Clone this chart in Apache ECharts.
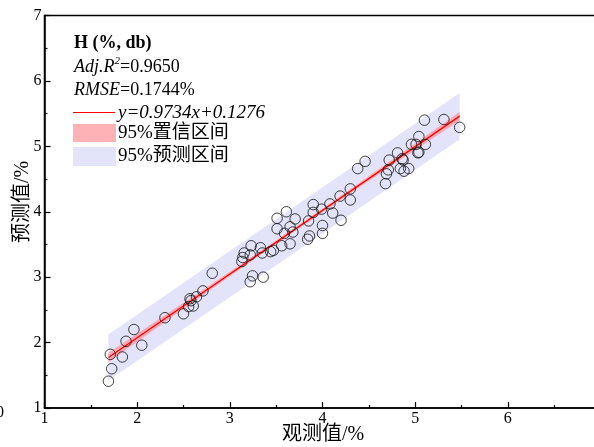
<!DOCTYPE html>
<html><head><meta charset="utf-8">
<script src="https://cdn.jsdelivr.net/npm/echarts@6/dist/echarts.min.js"></script>
<style>html,body{margin:0;padding:0;background:#fff;overflow:hidden}#c{width:594px;height:447px}</style>
</head><body><div id="c"></div>
<script>
const observed = [1.69,1.725,1.71,1.84,1.88,1.965,2.05,2.30,2.50,2.555,2.57,2.58,2.605,2.64,2.71,2.81,
  3.13,3.14,3.155,3.22,3.23,3.22,3.245,3.36,3.33,3.35,3.44,3.47,3.51,3.51,3.56,3.61,3.59,3.65,3.65,3.705,3.68,
  3.84,3.86,3.85,3.90,3.90,3.99,4.00,4.00,4.08,4.11,4.19,4.20,4.30,4.30,4.38,4.46,
  4.68,4.69,4.71,4.72,4.81,4.86,4.87,4.84,4.88,4.93,4.96,5.01,5.11,5.04,5.04,5.03,5.10,5.31,5.48];
const predicted = [1.41,1.60,1.82,1.78,2.02,2.20,1.96,2.38,2.44,2.55,2.67,2.64,2.56,2.70,2.79,3.06,
  3.24,3.30,3.37,3.34,3.48,2.93,3.02,3.00,3.45,3.37,3.39,3.41,3.90,3.74,3.48,4.00,3.67,3.77,3.51,3.89,3.69,
  3.58,3.63,3.86,4.11,3.99,4.04,3.79,3.67,4.12,3.98,4.24,3.87,4.35,4.18,4.66,4.77,
  4.43,4.58,4.64,4.79,4.90,4.81,4.79,4.66,4.62,4.66,5.03,5.03,5.03,5.15,4.91,4.90,5.40,5.41,5.29];
// Fitted line y = 0.9734x + 0.1276 (end points)
const fitX = [1.69, 5.48];
const fitY = [1.773, 5.462];
// 95% confidence band
const ciX    = [1.69, 2.2, 2.7, 3.2, 3.7, 4.2, 4.7, 5.2, 5.48];
const ciLow  = [1.700, 2.212, 2.715, 3.212, 3.703, 4.186, 4.660, 5.133, 5.393];
const ciHigh = [1.845, 2.326, 2.797, 3.273, 3.755, 4.246, 4.745, 5.246, 5.530];
// 95% prediction band
const piX    = [1.69, 5.48];
const piLow  = [1.420, 5.110];
const piHigh = [2.125, 5.815];
// Axis ticks
const xTicks = [1, 2, 3, 4, 5, 6, 7];
const yTicks = [1, 2, 3, 4, 5, 6, 7];

const SERIF = "'Liberation Serif','Times New Roman','Noto Sans CJK SC',serif";
const PINK = 'rgba(255,160,168,0.85)';
const LAV = 'rgb(227,227,250)';

function band(xs, lo, hi, color, z) {
  return {
    type: 'custom', silent: true, z: z, data: [[xs[0], lo[0]]],
    renderItem: function (params, api) {
      const pts = [];
      for (let i = 0; i < xs.length; i++) pts.push(api.coord([xs[i], hi[i]]));
      for (let i = xs.length - 1; i >= 0; i--) pts.push(api.coord([xs[i], lo[i]]));
      return { type: 'polygon', shape: { points: pts }, style: { fill: color } };
    }
  };
}

const chart = echarts.init(document.getElementById('c'), null, { renderer: 'canvas' });
const axisCommon = {
  type: 'value', interval: 1,
  axisLine: { show: true, onZero: false, lineStyle: { color: '#000', width: 1.5 } },
  axisTick: { show: true, inside: true, length: 6, lineStyle: { color: '#000', width: 1.2 } },
  minorTick: { show: true, splitNumber: 2, length: 3, lineStyle: { color: '#000', width: 1.2 } },
  splitLine: { show: false },
  axisLabel: { color: '#000', fontSize: 16, fontFamily: SERIF, margin: 3 }
};
chart.setOption({
  animation: false,
  backgroundColor: '#fff',
  grid: { left: 44.5, top: 15.5, width: 556, height: 392.5, containLabel: false, outerBoundsMode: 'none',
          show: true, borderColor: '#000', borderWidth: 1.5, backgroundColor: 'transparent' },
  xAxis: Object.assign({}, axisCommon, { min: xTicks[0], max: xTicks[xTicks.length - 1] }),
  yAxis: Object.assign({}, axisCommon, { min: yTicks[0], max: yTicks[yTicks.length - 1] }),
  series: [
    band(piX, piLow, piHigh, LAV, 1),
    band(ciX, ciLow, ciHigh, PINK, 2),
    { type: 'line', z: 3, silent: true, showSymbol: false, symbol: 'none',
      data: fitX.map((x, i) => [x, fitY[i]]), lineStyle: { color: '#ff0000', width: 1.3 } },
    { type: 'scatter', z: 4, symbol: 'circle', symbolSize: 10.5,
      data: observed.map((x, i) => [x, predicted[i]]),
      itemStyle: { color: 'rgba(0,0,0,0)', borderColor: '#111', borderWidth: 1 } }
  ],
  graphic: [
    { type: 'text', x: 323, y: 435,
      style: { text: '观测值/%', font: '20px ' + SERIF, fill: '#000', align: 'center', verticalAlign: 'middle' } },
    { type: 'text', x: 23, y: 202, rotation: Math.PI / 2,
      style: { text: '预测值/%', font: '20px ' + SERIF, fill: '#000', align: 'center', verticalAlign: 'middle' } },
    { type: 'text', left: -4, top: 405, style: { text: '0', font: '16px ' + SERIF, fill: '#000' } },
    { type: 'text', x: 74, y: 43, style: { text: 'H (%, db)', font: 'bold 18px ' + SERIF, fill: '#000', verticalAlign: 'middle' } },
    { type: 'text', x: 74, y: 67, style: {
        text: '{i|Adj.R}{s|2}{n|=0.9650}', verticalAlign: 'middle', fill: '#000',
        rich: {
          i: { fontStyle: 'italic', fontSize: 18, fontFamily: SERIF, lineHeight: 22, verticalAlign: 'middle' },
          s: { fontStyle: 'italic', fontSize: 11, fontFamily: SERIF, lineHeight: 22, verticalAlign: 'top' },
          n: { fontSize: 18, fontFamily: SERIF, lineHeight: 22, verticalAlign: 'middle' }
        } } },
    { type: 'text', x: 74, y: 90, style: {
        text: '{i|RMSE}{n|=0.1744%}', verticalAlign: 'middle', fill: '#000',
        rich: {
          i: { fontStyle: 'italic', fontSize: 18, fontFamily: SERIF },
          n: { fontSize: 18, fontFamily: SERIF }
        } } },
    { type: 'line', shape: { x1: 73, y1: 112.5, x2: 115, y2: 112.5 }, style: { stroke: '#ff0000', lineWidth: 1 } },
    { type: 'text', x: 118, y: 113, style: { text: 'y=0.9734x+0.1276', font: 'italic 19px ' + SERIF, fill: '#000', verticalAlign: 'middle' } },
    { type: 'rect', shape: { x: 73, y: 124, width: 43, height: 18 }, style: { fill: 'rgb(255,178,182)' } },
    { type: 'text', x: 118, y: 133, style: { text: '95%置信区间', font: '19px ' + SERIF, fill: '#000', verticalAlign: 'middle' } },
    { type: 'rect', shape: { x: 73, y: 147, width: 43, height: 19 }, style: { fill: LAV } },
    { type: 'text', x: 118, y: 156, style: { text: '95%预测区间', font: '19px ' + SERIF, fill: '#000', verticalAlign: 'middle' } }
  ]
});
</script>
</body></html>
